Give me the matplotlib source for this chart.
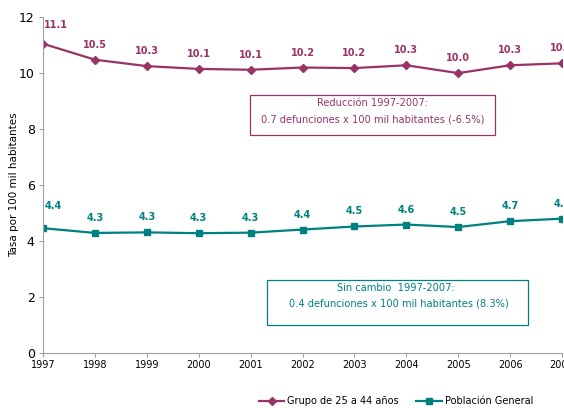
import numpy as np
import matplotlib.pyplot as plt

years = [1997, 1998, 1999, 2000, 2001, 2002, 2003, 2004, 2005, 2006, 2007]
grupo = [11.05, 10.48, 10.25, 10.15, 10.12, 10.2, 10.18, 10.28, 10.0, 10.28, 10.35]
grupo_lbl = ["11.1", "10.5", "10.3", "10.1", "10.1", "10.2", "10.2", "10.3", "10.0", "10.3", "10.4"]
general = [4.46, 4.29, 4.31, 4.28, 4.3, 4.41, 4.52, 4.59, 4.5, 4.71, 4.8]
general_lbl = ["4.4", "4.3", "4.3", "4.3", "4.3", "4.4", "4.5", "4.6", "4.5", "4.7", "4.8"]

c_grp = '#993366'
c_gen = '#008080'
plt.rcParams['font.family'] = ['DejaVu Sans']

fig = plt.figure(figsize=(5.64, 4.08), dpi=100)
ax = fig.add_axes([0.0762, 0.1348, 0.9203, 0.8232])

ax.plot(years, grupo, color=c_grp, lw=1.6, marker='D', ms=4.5, label='Grupo de 25 a 44 años')
ax.plot(years, general, color=c_gen, lw=1.6, marker='s', ms=4.5, label='Población General')

# data labels (first point of each series sits a bit to the right)
for i, (x, y, t) in enumerate(zip(years, grupo, grupo_lbl)):
    off = (13, 19) if i == 0 else (0, 15)
    ax.annotate(t, (x, y), xytext=off, textcoords='offset pixels', ha='center', va='center',
                color=c_grp, fontsize=7, fontweight='bold', annotation_clip=False)
for i, (x, y, t) in enumerate(zip(years, general, general_lbl)):
    off = (10, 22) if i == 0 else (0, 15)
    ax.annotate(t, (x, y), xytext=off, textcoords='offset pixels', ha='center', va='center',
                color=c_gen, fontsize=7, fontweight='bold', annotation_clip=False)

ax.set_xlim(1997, 2007)
ax.set_ylim(0, 12)
ax.set_xticks(years)
ax.set_yticks([0, 2, 4, 6, 8, 10, 12])
ax.tick_params(axis='x', labelsize=7, length=3, color='#a0a0a0', pad=2)
ax.tick_params(axis='y', labelsize=9, length=3, color='#a0a0a0', pad=3)
for s in ['top', 'right']:
    ax.spines[s].set_visible(False)
for s in ['left', 'bottom']:
    ax.spines[s].set_color('#a0a0a0')
ax.set_ylabel('Tasa por 100 mil habitantes', fontsize=7.5)
ax.yaxis.set_label_coords(-0.047, 0.5)

# annotation boxes
fig.patches.append(plt.Rectangle((249.5 / 564, 1 - 135 / 408), 245.5 / 564, 40.5 / 408, transform=fig.transFigure,
                                 fill=False, edgecolor=c_grp, lw=0.9))
fig.text(372 / 564, 1 - 103 / 408, 'Reducción 1997-2007:', color=c_grp, fontsize=7.1, ha='center', va='center')
fig.text(373 / 564, 1 - 119 / 408, '0.7 defunciones x 100 mil habitantes (-6.5%)', color=c_grp, fontsize=7.1,
         ha='center', va='center')

fig.patches.append(plt.Rectangle((267 / 564, 1 - 325 / 408), 261 / 564, 45 / 408, transform=fig.transFigure,
                                 fill=False, edgecolor=c_gen, lw=0.9))
fig.text(396 / 564, 1 - 288 / 408, 'Sin cambio  1997-2007:', color=c_gen, fontsize=7.1, ha='center', va='center')
fig.text(399 / 564, 1 - 304 / 408, '0.4 defunciones x 100 mil habitantes (8.3%)', color=c_gen, fontsize=7.1,
         ha='center', va='center')

fig.legend(loc='center', bbox_to_anchor=(396 / 564, 1 - 401 / 408), ncol=2, frameon=False, fontsize=7,
           handlelength=2.6, columnspacing=1.8, handletextpad=0.3)

fig.savefig('out.png', dpi=100)
